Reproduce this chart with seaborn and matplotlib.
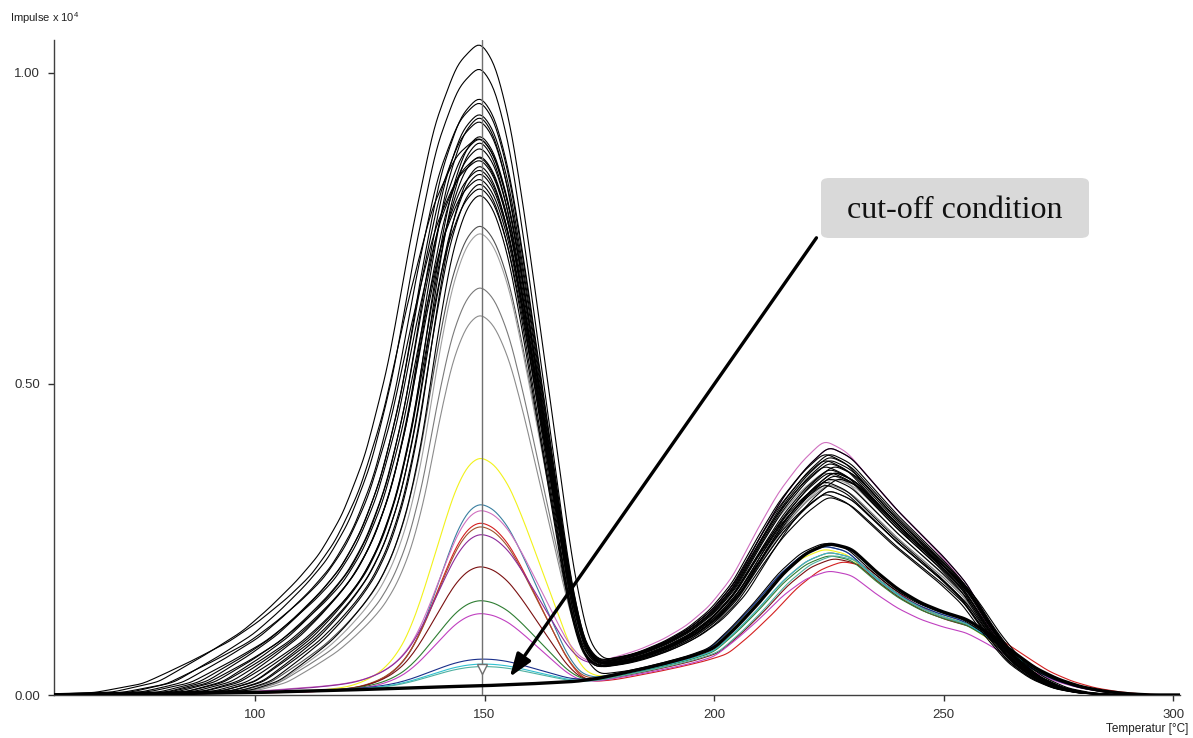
import numpy as np
import pandas as pd
import matplotlib
matplotlib.use("Agg")
import matplotlib.pyplot as plt
from matplotlib.patches import FancyBboxPatch
import seaborn as sns

# ---------------- data ----------------
# normalised shape of the first (149 °C) peak, as a function of distance / half-width
p1_left_d = [0, 0.25, 0.5, 0.75, 1.0, 1.25, 1.5, 1.75, 2.0, 2.3, 2.6, 3.0, 3.5, 4.0, 5.0]
p1_left_black = [1, 0.965, 0.87, 0.70, 0.5, 0.36, 0.27, 0.21, 0.17, 0.13, 0.095, 0.06, 0.02, 0.004, 0]
p1_left_color = [1, 0.96, 0.85, 0.68, 0.5, 0.33, 0.20, 0.12, 0.07, 0.035, 0.015, 0.005, 0, 0, 0]
p1_right_d = [0, 0.25, 0.5, 0.75, 1.0, 1.25, 1.5, 1.75, 2.0, 2.5]
p1_right = [1, 0.96, 0.86, 0.70, 0.52, 0.34, 0.16, 0.04, 0.005, 0]

# background + second peak (around 225 °C), two families
tB = [56, 80, 100, 120, 140, 150, 160, 170, 175, 180, 185, 190, 195, 200, 205, 210,
      215, 220, 225, 230, 235, 240, 245, 250, 255, 260, 265, 270, 275, 280, 285, 290, 295, 302]
B_upper = [0, 0.001, 0.005, 0.015, 0.03, 0.035, 0.04, 0.044, 0.047, 0.057, 0.068, 0.083, 0.103, 0.132,
           0.175, 0.24, 0.30, 0.345, 0.378, 0.36, 0.32, 0.28, 0.245, 0.21, 0.17, 0.11, 0.06, 0.03,
           0.012, 0.004, 0.001, 0, 0, 0]
B_lower = [0, 0.002, 0.004, 0.008, 0.013, 0.015, 0.018, 0.022, 0.027, 0.035, 0.043, 0.052, 0.062, 0.075,
           0.11, 0.15, 0.195, 0.228, 0.244, 0.235, 0.20, 0.17, 0.148, 0.133, 0.122, 0.098, 0.07, 0.043,
           0.025, 0.013, 0.006, 0.002, 0, 0]
B_upper_ref = 0.378
B_lower_ref = 0.244

# per-curve values
peak1 = [1.052, 1.013, 0.965, 0.958, 0.94, 0.935, 0.928, 0.905, 0.90, 0.895, 0.885, 0.872, 0.865,
         0.857, 0.85, 0.844, 0.835, 0.828, 0.82, 0.81, 0.90, 0.87,
         0.76, 0.748, 0.66, 0.615,
         0.384, 0.309, 0.299, 0.279, 0.273, 0.26, 0.208, 0.153, 0.132, 0.058, 0.05, 0.046,
         0.0]
hw_left = [20, 19, 17, 18.5, 16, 15, 17.5, 14, 16.5, 13.5, 15.5, 14.5, 19.5, 13, 16, 14, 17, 13.5, 15,
           12.5, 21, 18,
           13, 12.5, 12.5, 12,
           11, 10, 10, 10.5, 10.5, 10.5, 11, 11, 11, 12, 12, 12,
           10]
hw_right = [13.5, 13, 13, 13, 13, 12.5, 13, 13, 13, 12.5, 13, 13, 13, 12.5, 13, 13, 13, 12.5, 13, 12.5,
            13, 13,
            13, 13, 13, 13,
            13, 12.5, 12.5, 12.5, 12.5, 12.5, 12.5, 12.5, 12.5, 12.5, 12.5, 12.5,
            12.5]
peak2 = [0.38, 0.36, 0.39, 0.35, 0.37, 0.38, 0.34, 0.36, 0.385, 0.33, 0.37, 0.35, 0.39, 0.36, 0.345,
         0.375, 0.32, 0.355, 0.365, 0.325, 0.40, 0.245,
         0.33, 0.35, 0.34, 0.36,
         0.235, 0.24, 0.41, 0.215, 0.23, 0.40, 0.22, 0.225, 0.20, 0.24, 0.23, 0.225,
         0.244]
shift2 = [-1, 0, -1, 0, 1, 0, -1, 1, 0, 0, -1, 2, 0, 1, -1, 0, 0, 1, 0, -1, 0, -1,
          0, 1, 0, -1,
          -1, -1, -1, 3, 0, 0, 1, 0, 0, -1, 0, 1,
          0]
family = ["U"] * 21 + ["L"] + ["U"] * 4 + ["L", "L", "U", "L", "L", "U", "L", "L", "L", "L", "L", "L"] + ["L"]
colors = (["#000000"] * 22
          + ["#505050", "#a0a0a0", "#7a7a7a", "#8c8c8c"]
          + ["#f2f21a", "#3a7fa0", "#d070c0", "#d42020", "#a0522d", "#8e2a9a", "#7a1010",
             "#2e7d32", "#c040c0", "#1a2f8a", "#30c0d0", "#4fb0a0"]
          + ["#000000"])
widths = [0.8] * 22 + [0.8] * 4 + [0.8] * 12 + [2.4]

x_ticks = [100, 150, 200, 250, 300]
y_ticks = [0.0, 0.5, 1.0]
y_tick_labels = ["0.00", "0.50", "1.00"]

# ---------------- build curves ----------------
t = np.arange(50.0, 306.0, 0.5)


def smooth(y, sigma_pts=2.0):
    k = np.arange(-8, 9)
    w = np.exp(-0.5 * (k / sigma_pts) ** 2)
    w /= w.sum()
    yp = np.pad(y, 8, mode="edge")
    return np.convolve(yp, w, mode="valid")


rows = []
for i in range(len(peak1)):
    left_prof = p1_left_black if i < 26 else p1_left_color
    if family[i] == "U":
        fam, ref = B_upper, B_upper_ref
    else:
        fam, ref = B_lower, B_lower_ref
    comp2 = np.interp(t - shift2[i], tB, fam) * peak2[i] / ref
    base149 = np.interp(149.0 - shift2[i], tB, fam) * peak2[i] / ref
    amp1 = max(peak1[i] - base149, 0.0)
    dl = (149.0 - t) / hw_left[i]
    dr = (t - 149.0) / hw_right[i]
    comp1 = np.where(t <= 149.0,
                     np.interp(dl, p1_left_d, left_prof),
                     np.interp(dr, p1_right_d, p1_right)) * amp1
    y = smooth(comp1 + comp2)
    rows.append(pd.DataFrame({"Temperatur": t, "Impulse": y, "curve": i}))
df = pd.concat(rows, ignore_index=True)

# ---------------- plot ----------------
sns.set_style("ticks")
plt.rcParams["font.family"] = ["Liberation Sans", "DejaVu Sans"]
plt.rcParams["mathtext.fontset"] = "custom"
plt.rcParams["mathtext.rm"] = "Liberation Sans"
plt.rcParams["mathtext.it"] = "Liberation Sans"

fig = plt.figure(figsize=(11.93, 7.38), dpi=100)
ax = fig.add_axes([54 / 1193, 1 - 695 / 738, (1180 - 54) / 1193, (695 - 40) / 738])

order = list(range(26, 38)) + list(range(22, 26)) + list(range(0, 22)) + [38]
for i in order:
    sub = df[df["curve"] == i]
    sns.lineplot(data=sub, x="Temperatur", y="Impulse", color=colors[i], lw=widths[i],
                 ax=ax, legend=False, zorder=3 if i != 38 else 5)

ax.set_xlim(56.2, 301.5)
ax.set_ylim(0, 1.053)

# cursor line
ax.axvline(149.5, color="#707070", lw=1.0, zorder=4)
ax.plot([149.5], [0.042], marker="v", markersize=7, markerfacecolor="white",
        markeredgecolor="#707070", markeredgewidth=1.0, zorder=6)

ax.set_xticks(x_ticks)
ax.set_yticks(y_ticks)
ax.set_yticklabels(y_tick_labels)
ax.set_xlabel("")
ax.set_ylabel("")
ax.tick_params(direction="out", length=4, width=1, colors="#303030", labelsize=9.5, pad=6)
sns.despine(ax=ax)
for s in ("left", "bottom"):
    ax.spines[s].set_color("#404040")
    ax.spines[s].set_linewidth(1.0)

fig.text(10 / 1193, 1 - 18 / 738, r"Impulse x 10$^{4}$", fontsize=8, color="#202020",
         ha="left", va="center")
fig.text(1188 / 1193, 1 - 729 / 738, "Temperatur [°C]", fontsize=8.5, color="#202020",
         ha="right", va="center")

# annotation box and arrow
box = FancyBboxPatch((821 / 1193, 1 - 238 / 738), 268 / 1193, 60 / 738,
                     boxstyle="round,pad=0,rounding_size=0.007",
                     transform=fig.transFigure, facecolor="#d9d9d9", edgecolor="none", zorder=10)
fig.patches.append(box)
fig.text(955 / 1193, 1 - 210 / 738, "cut-off condition", fontsize=23,
         family=["Liberation Serif", "DejaVu Serif"], color="#111111",
         ha="center", va="center", zorder=11)

ax.annotate("", xy=(155.5, 0.029), xytext=(222.3, 0.735),
            arrowprops=dict(arrowstyle="-|>,head_length=1.4,head_width=0.5", color="black",
                            lw=2.4, shrinkA=0, shrinkB=0),
            zorder=12)

fig.savefig("out.png", dpi=100)
